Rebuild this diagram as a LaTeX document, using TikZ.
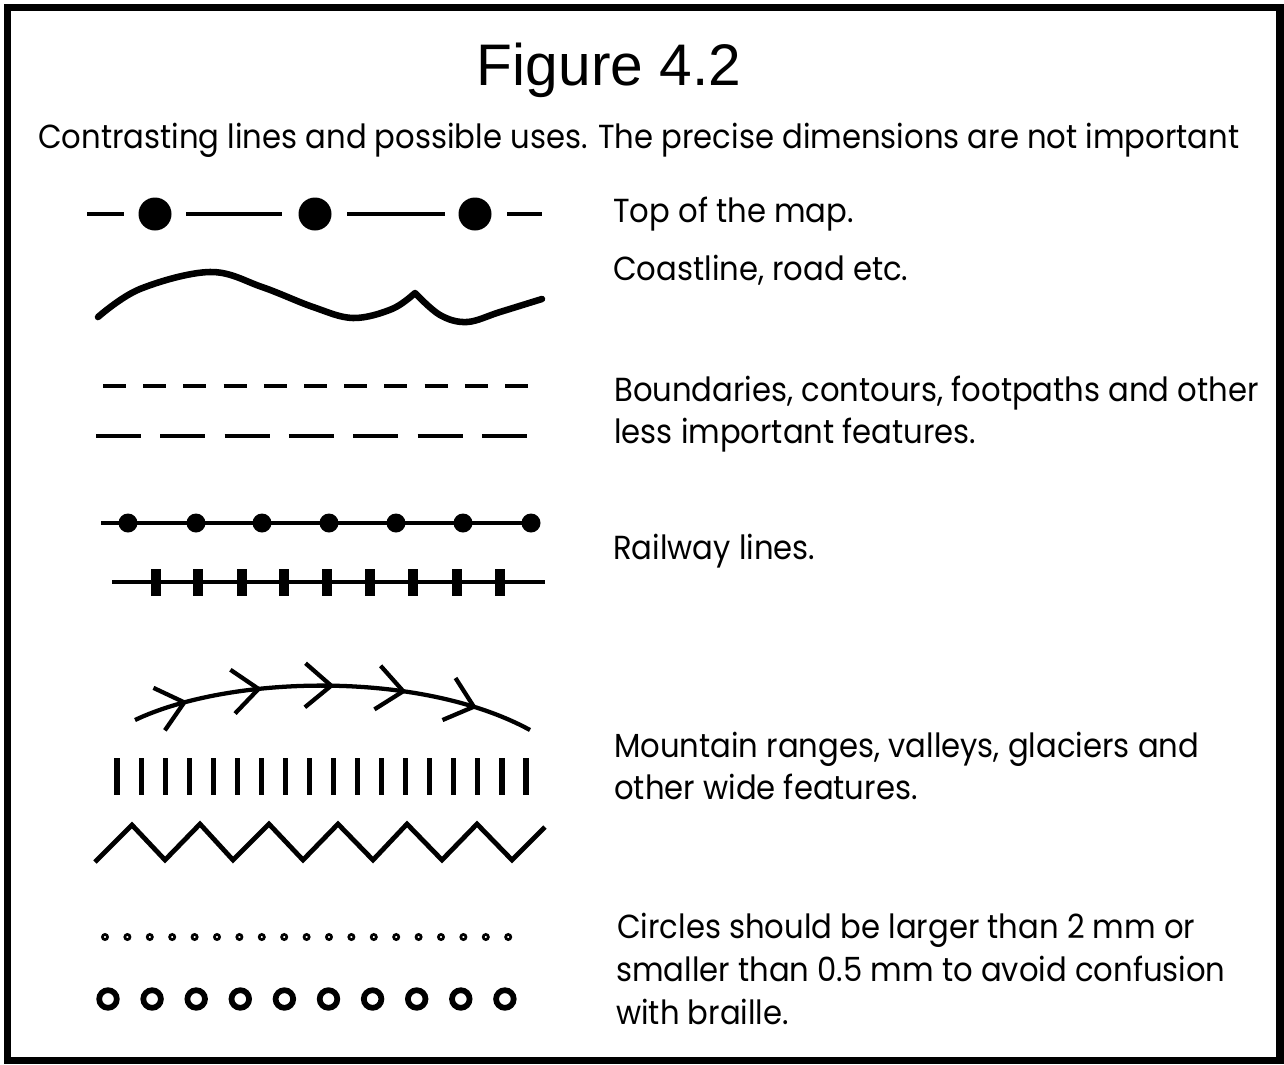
\documentclass[tikz,border=0pt]{standalone}
\usepackage{fontspec}
\setmainfont{Poppins}[FakeStretch=0.92]
\newfontfamily\titlefont{Liberation Sans}
\usetikzlibrary{decorations.markings}

\begin{document}
\begin{tikzpicture}[x=0.75pt,y=-0.75pt,
  frame/.style={line width=5.6pt},
  thinline/.style={line width=2.4pt},
  wideline/.style={line width=4.9pt, line join=round, line cap=round},
  medline/.style={line width=3.4pt},
  label/.style={anchor=base west, inner sep=0pt, font=\fontsize{25}{30}\selectfont},
  chev/.style={line width=3.2pt},
]
\useasboundingbox (0,0) rectangle (1284,1064);
% outer frame
\draw[frame] (7.3,7.5) rectangle (1280,1060.5);

% headings
\node[anchor=base, inner sep=0pt, font=\titlefont\fontsize{44}{50}\selectfont] (title) at (609,85) {Figure 4.2};
\node[label] (sub) at (38,148) {Contrasting lines and possible uses. The precise dimensions are not important};

% explanations
\node[label] (t1) at (613,222) {Top of the map.};
\node[label] (t2) at (613,280) {Coastline, road etc.};
\node[label] (t3a) at (614,401) {Boundaries, contours, footpaths and other};
\node[label] (t3b) at (614,443) {less important features.};
\node[label] (t4) at (613,559) {Railway lines.};
\node[label] (t5a) at (614,757) {Mountain ranges, valleys, glaciers and};
\node[label] (t5b) at (614,799) {other wide features.};
\node[label] (t6a) at (617,938) {Circles should be larger than 2 mm or};
\node[label] (t6b) at (616,981) {smaller than 0.5 mm to avoid confusion};
\node[label] (t6c) at (616,1024) {with braille.};

% top of the map: dashes with large dots
\foreach \a/\b in {87/124,186/282,347/445,507/542}
  \draw[thinline] (\a,214) -- (\b,214);
\foreach \x in {155,315,475}
  \fill (\x,214) circle (16.5);

% coastline
\draw[wideline] plot[smooth, tension=0.6] coordinates {(98,317) (140,289) (210,272) (262,287) (313,307) (353,318) (392,309) (415,293)}
  plot[smooth, tension=0.6] coordinates {(415,293) (440,315) (467,322) (500,312) (542,299)};

% boundaries: short and long dashes
\foreach \i in {0,...,10}
  \draw[medline] ({103+\i*40.2},386) -- ++(23,0);
\foreach \i in {0,...,6}
  \draw[medline] ({96+\i*64.3},436) -- ++(45,0);

% railway lines
\draw[thinline] (101,523) -- (531,523);
\foreach \x in {128,196,262,329,396,463,531}
  \fill (\x,523) circle (9.5);
\draw[thinline] (112,582) -- (545,582);
\foreach \x in {156,198,242,284,327,370,413,457,500}
  \fill (\x-5,569) rectangle (\x+5,596);

% mountain range with chevrons
\draw[chev, postaction=decorate, decoration={markings,
    mark=at position 0.129 with {\draw[chev] (-26,-22) -- (0,0) -- (-26,22);},
    mark=at position 0.315 with {\draw[chev] (-26,-22) -- (0,0) -- (-26,22);},
    mark=at position 0.494 with {\draw[chev] (-26,-22) -- (0,0) -- (-26,22);},
    mark=at position 0.672 with {\draw[chev] (-26,-22) -- (0,0) -- (-26,22);},
    mark=at position 0.850 with {\draw[chev] (-26,-22) -- (0,0) -- (-26,22);}}]
  (135,720) .. controls (230,675) and (420,670) .. (530,730);

% valley hatching
\foreach \i in {0,...,17}
  \draw[line width=3.8pt] ({117+\i*24.06},758) -- ++(0,37);

% zigzag
\draw[line width=3.6pt] (95,862) -- (132,825) -- (165,860) -- (200,824) -- (233,860) -- (269,824)
  -- (303,860) -- (338,824) -- (373,860) -- (407,824) -- (442,860) -- (477,824) -- (512,860) -- (545,827);

% small and large circles
\foreach \i in {0,...,18}
  \draw[line width=2pt] ({105+\i*22.4},937) circle (2.6);
\foreach \i in {0,...,9}
  \draw[line width=4.3pt] ({108+\i*44.1},999) circle (8.8);
\end{tikzpicture}
\end{document}
